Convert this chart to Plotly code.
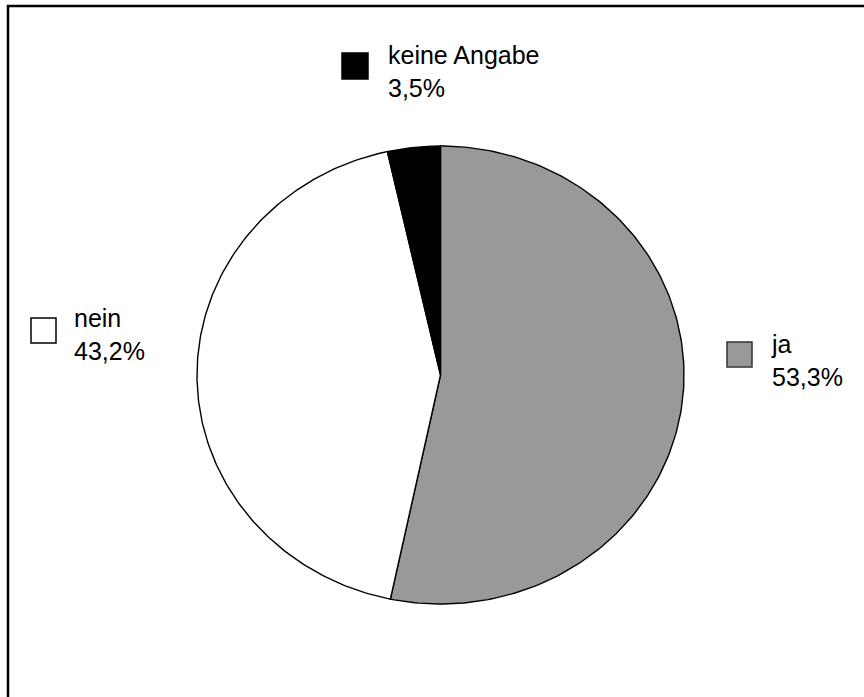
import numpy as np
import plotly.graph_objects as go

# Survey answers (share in percent)
labels = ["ja", "nein", "keine Angabe"]
values = [53.3, 43.2, 3.5]
value_text = ["53,3%", "43,2%", "3,5%"]
colors = ["#999999", "#ffffff", "#000000"]

W, H = 864, 697
CX, CY = 440.5, 375.0      # pie centre in pixels (from top-left)
RX, RY = 243.5, 229.0      # horizontal / vertical radius in pixels

fig = go.Figure()

# Wedges: start at 12 o'clock and run clockwise
total = sum(values)
start = 0.0
for lab, val, col in zip(labels, values, colors):
    a0 = np.pi / 2 - 2 * np.pi * start / total
    a1 = np.pi / 2 - 2 * np.pi * (start + val) / total
    t = np.linspace(a0, a1, 200)
    xs = np.concatenate([[0.0], np.cos(t), [0.0]])
    ys = np.concatenate([[0.0], np.sin(t), [0.0]])
    fig.add_trace(go.Scatter(
        x=xs, y=ys, mode="lines", fill="toself", fillcolor=col,
        line=dict(color="#000000", width=1.4), name=lab,
        hoverinfo="name", showlegend=False,
    ))
    start += val

# Axis ranges chosen so one unit equals RX px horizontally and RY px vertically
x_range = [-CX / RX, (W - CX) / RX]
y_range = [-(H - CY) / RY, CY / RY]

def px(x):
    return x / W

def py(y):
    return 1 - y / H

# Label boxes: marker square + two-line text (name, value)
label_layout = {
    "keine Angabe": dict(sq=(342, 53, 368, 79), tx=386, ty=72),
    "nein": dict(sq=(31, 318, 56, 343), tx=72, ty=334),
    "ja": dict(sq=(727, 342, 752, 367), tx=769, ty=360),
}
border = {"ja": "#333333", "nein": "#000000", "keine Angabe": "#000000"}
font = dict(family="Liberation Sans, Arial, sans-serif", size=25, color="#000000")

shapes = []
annotations = []
for lab, txt, col in zip(labels, value_text, colors):
    spec = label_layout[lab]
    x0, y0, x1, y1 = spec["sq"]
    shapes.append(dict(
        type="rect", xref="paper", yref="paper",
        x0=px(x0), x1=px(x1), y0=py(y1), y1=py(y0),
        fillcolor=col, line=dict(color=border[lab], width=1.5),
    ))
    annotations.append(dict(
        xref="paper", yref="paper", x=px(spec["tx"]), y=py(spec["ty"]),
        xanchor="left", yanchor="middle", align="left", showarrow=False,
        text=f"{lab}<br>{txt}", font=font,
    ))

# Outer frame (top and left edges fall inside the view)
shapes.append(dict(type="line", xref="paper", yref="paper",
                   x0=px(7), x1=1.02, y0=py(6), y1=py(6),
                   line=dict(color="#000000", width=2.5)))
shapes.append(dict(type="line", xref="paper", yref="paper",
                   x0=px(8), x1=px(8), y0=py(5), y1=-0.02,
                   line=dict(color="#000000", width=2.5)))

fig.update_layout(
    width=W, height=H,
    margin=dict(l=0, r=0, t=0, b=0),
    paper_bgcolor="#ffffff", plot_bgcolor="#ffffff",
    xaxis=dict(range=x_range, visible=False, fixedrange=True),
    yaxis=dict(range=y_range, visible=False, fixedrange=True),
    shapes=shapes, annotations=annotations,
    showlegend=False,
)

fig.write_html("out.html")
